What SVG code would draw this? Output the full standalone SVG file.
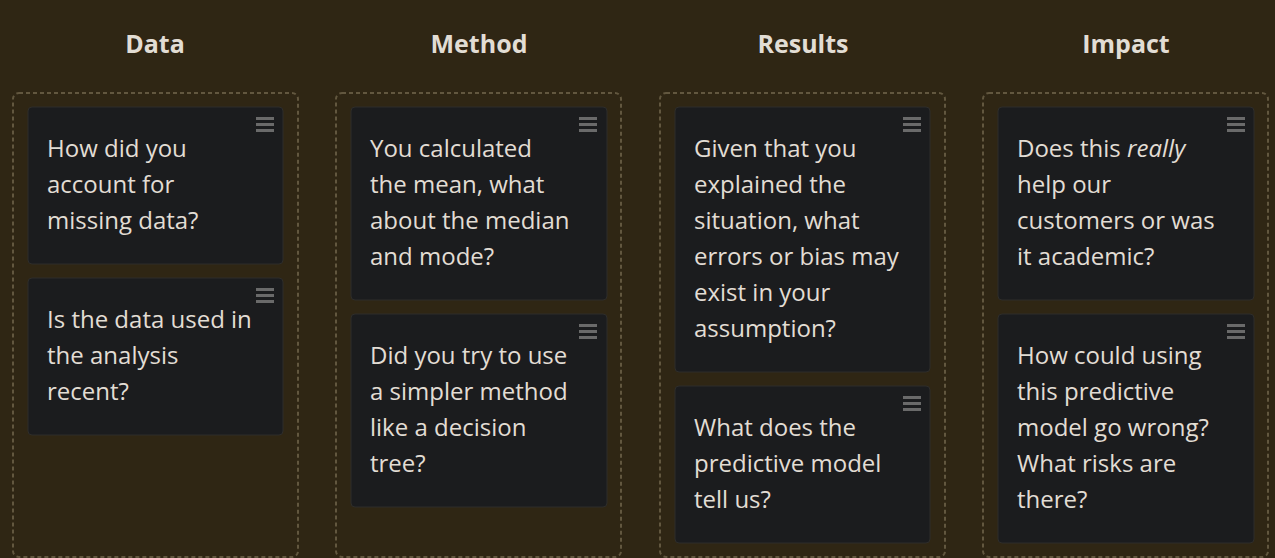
<svg xmlns="http://www.w3.org/2000/svg" width="1275" height="558" viewBox="0 0 1275 558">
<style>
.bg{fill:#2f2614}
.col{fill:none;stroke:#62573f;stroke-width:2;stroke-dasharray:4 3}
.card{fill:#1b1c1e;stroke:#2e2d2a;stroke-width:1}
.bar{fill:#6a6a6a}
.h{font-family:"Open Sans","Liberation Sans",sans-serif;font-weight:bold;font-size:25px;fill:#e2ddd4;text-anchor:middle}
.t{font-family:"Open Sans","Liberation Sans",sans-serif;font-size:24px;fill:#e2ddd4}
</style>
<defs>
<g id="menu"><rect class="bar" x="0" y="0" width="18" height="3"/><rect class="bar" x="0" y="6" width="18" height="3"/><rect class="bar" x="0" y="12" width="18" height="3"/></g>
</defs>
<rect class="bg" x="0" y="0" width="1275" height="558"/>
<g id="connectors"/>
<g id="col-data">
<text class="h" x="155" y="53">Data</text>
<rect class="col" x="13" y="93" width="285" height="464" rx="6"/>
</g>
<g id="col-method">
<text class="h" x="479" y="53">Method</text>
<rect class="col" x="336" y="93" width="285" height="464" rx="6"/>
</g>
<g id="col-results">
<text class="h" x="803" y="53">Results</text>
<rect class="col" x="660" y="93" width="285" height="464" rx="6"/>
</g>
<g id="col-impact">
<text class="h" x="1126" y="53">Impact</text>
<rect class="col" x="983" y="93" width="285" height="464" rx="6"/>
</g>
<g id="card-d1">
<rect class="card" x="28" y="107" width="255" height="157" rx="4"/>
<use href="#menu" x="256" y="117"/>
<text class="t" x="47" y="157">How did you</text>
<text class="t" x="47" y="193">account for</text>
<text class="t" x="47" y="229">missing data?</text>
</g>
<g id="card-d2">
<rect class="card" x="28" y="278" width="255" height="157" rx="4"/>
<use href="#menu" x="256" y="288"/>
<text class="t" x="47" y="328">Is the data used in</text>
<text class="t" x="47" y="364">the analysis</text>
<text class="t" x="47" y="400">recent?</text>
</g>
<g id="card-m1">
<rect class="card" x="351" y="107" width="256" height="193" rx="4"/>
<use href="#menu" x="579" y="117"/>
<text class="t" x="370" y="157">You calculated</text>
<text class="t" x="370" y="193">the mean, what</text>
<text class="t" x="370" y="229">about the median</text>
<text class="t" x="370" y="265">and mode?</text>
</g>
<g id="card-m2">
<rect class="card" x="351" y="314" width="256" height="193" rx="4"/>
<use href="#menu" x="579" y="324"/>
<text class="t" x="370" y="364">Did you try to use</text>
<text class="t" x="370" y="400">a simpler method</text>
<text class="t" x="370" y="436">like a decision</text>
<text class="t" x="370" y="472">tree?</text>
</g>
<g id="card-r1">
<rect class="card" x="675" y="107" width="255" height="265" rx="4"/>
<use href="#menu" x="903" y="117"/>
<text class="t" x="694" y="157">Given that you</text>
<text class="t" x="694" y="193">explained the</text>
<text class="t" x="694" y="229">situation, what</text>
<text class="t" x="694" y="265">errors or bias may</text>
<text class="t" x="694" y="301">exist in your</text>
<text class="t" x="694" y="337">assumption?</text>
</g>
<g id="card-r2">
<rect class="card" x="675" y="386" width="255" height="157" rx="4"/>
<use href="#menu" x="903" y="396"/>
<text class="t" x="694" y="436">What does the</text>
<text class="t" x="694" y="472">predictive model</text>
<text class="t" x="694" y="508">tell us?</text>
</g>
<g id="card-i1">
<rect class="card" x="998" y="107" width="256" height="193" rx="4"/>
<use href="#menu" x="1227" y="117"/>
<text class="t" x="1017" y="157">Does this <tspan font-style="italic">really</tspan></text>
<text class="t" x="1017" y="193">help our</text>
<text class="t" x="1017" y="229">customers or was</text>
<text class="t" x="1017" y="265">it academic?</text>
</g>
<g id="card-i2">
<rect class="card" x="998" y="314" width="256" height="229" rx="4"/>
<use href="#menu" x="1227" y="324"/>
<text class="t" x="1017" y="364">How could using</text>
<text class="t" x="1017" y="400">this predictive</text>
<text class="t" x="1017" y="436">model go wrong?</text>
<text class="t" x="1017" y="472">What risks are</text>
<text class="t" x="1017" y="508">there?</text>
</g>
</svg>
